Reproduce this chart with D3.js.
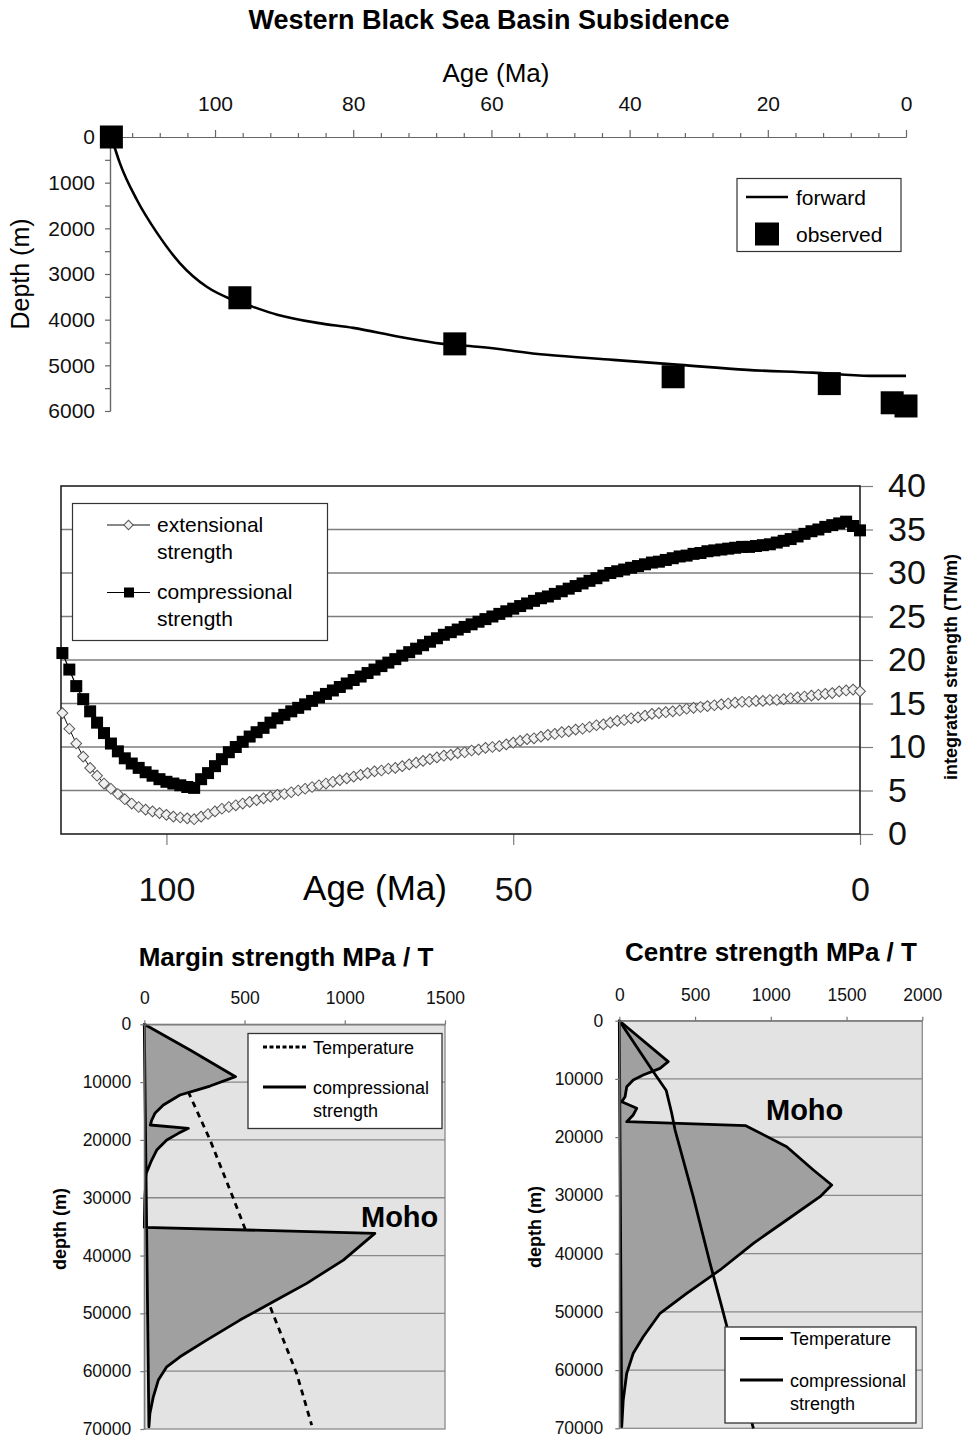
<!DOCTYPE html>
<html>
<head>
<meta charset="utf-8">
<script src="https://cdn.jsdelivr.net/npm/d3@7/dist/d3.min.js"></script>
<style>
  body { margin: 0; background: #fff; }
  svg { display: block; font-family: "Liberation Sans", Arial, sans-serif; }
</style>
</head>
<body>
<div id="chart"></div>
<script>
// --- Subsidence (top panel) ---
const forwardAge   = [115, 113.8, 111.3, 108.4, 105.1, 101.2, 97.4, 94.5, 91, 85.2, 80, 73.2, 67, 61.6, 52, 42.4, 32.7, 23, 13.5, 5.2, 0]
const forwardDepth = [0, 560, 1380, 2100, 2760, 3280, 3570, 3720, 3890, 4070, 4180, 4380, 4530, 4600, 4770, 4880, 4990, 5100, 5160, 5230, 5230]
const observedAge   = [115, 96.4, 65.3, 33.7, 11.1, 2, 0]
const observedDepth = [0, 3520, 4530, 5250, 5400, 5820, 5890]
const ageMajorTicks = [100, 80, 60, 40, 20, 0]
const ageMinorTicks = [112, 108, 104, 96, 92, 88, 84, 76, 72, 68, 64, 56, 52, 48, 44, 36, 32, 28, 24, 16, 12, 8, 4]
const depthTicks = [0, 1000, 2000, 3000, 4000, 5000, 6000]
const depthMinorTicks = [500, 1500, 2500, 3500, 4500, 5500]

// --- Integrated strength (middle panel) ---
const strengthAge = [115, 114, 113, 112, 111, 110, 109, 108, 107, 106, 105, 104, 103, 102, 101, 100,
  99, 98, 97, 96, 95, 94, 93, 92, 91, 90, 89, 88, 87, 86, 85, 84, 83, 82, 81, 80,
  79, 78, 77, 76, 75, 74, 73, 72, 71, 70, 69, 68, 67, 66, 65, 64, 63, 62, 61, 60,
  59, 58, 57, 56, 55, 54, 53, 52, 51, 50, 49, 48, 47, 46, 45, 44, 43, 42, 41, 40,
  39, 38, 37, 36, 35, 34, 33, 32, 31, 30, 29, 28, 27, 26, 25, 24, 23, 22, 21, 20,
  19, 18, 17, 16, 15, 14, 13, 12, 11, 10, 9, 8, 7, 6, 5, 4, 3, 2, 1, 0]
const extensional = [13.9, 12.1, 10.4, 8.9, 7.6, 6.7, 5.8, 5.2, 4.6, 4.0, 3.5, 3.1, 2.8, 2.6, 2.4, 2.2,
  2.0, 1.9, 1.8, 1.7, 2.0, 2.3, 2.6, 2.9, 3.1, 3.3, 3.5, 3.7, 3.9, 4.1, 4.3, 4.5, 4.6, 4.8, 5.0, 5.2,
  5.4, 5.6, 5.8, 6.0, 6.2, 6.4, 6.6, 6.8, 7.0, 7.2, 7.3, 7.5, 7.6, 7.8, 8.0, 8.2, 8.4, 8.6, 8.8, 9.0,
  9.1, 9.3, 9.4, 9.6, 9.7, 9.9, 10.0, 10.1, 10.3, 10.5, 10.7, 10.9, 11.0, 11.2, 11.4, 11.5, 11.7, 11.8, 12.0, 12.1,
  12.3, 12.5, 12.6, 12.8, 13.0, 13.1, 13.3, 13.4, 13.6, 13.8, 13.9, 14.0, 14.1, 14.2, 14.4, 14.5, 14.6, 14.7, 14.8, 14.9,
  15.0, 15.1, 15.2, 15.2, 15.3, 15.3, 15.4, 15.4, 15.5, 15.6, 15.7, 15.8, 15.9, 16.0, 16.1, 16.2, 16.4, 16.5, 16.6, 16.4]
const compressional = [20.8, 18.9, 17.0, 15.5, 14.1, 12.8, 11.6, 10.4, 9.5, 8.7, 8.1, 7.6, 7.1, 6.7, 6.3, 6.0,
  5.8, 5.6, 5.4, 5.3, 6.3, 7.0, 7.8, 8.6, 9.4, 10.0, 10.6, 11.2, 11.7, 12.2, 12.8, 13.3, 13.7, 14.1, 14.5, 14.9,
  15.3, 15.7, 16.1, 16.5, 16.9, 17.3, 17.7, 18.1, 18.5, 18.9, 19.3, 19.7, 20.1, 20.5, 20.9, 21.3, 21.7, 22.1, 22.5, 22.9,
  23.2, 23.5, 23.8, 24.1, 24.4, 24.7, 25.0, 25.3, 25.6, 25.9, 26.2, 26.5, 26.8, 27.1, 27.3, 27.6, 27.9, 28.2, 28.5, 28.8,
  29.1, 29.4, 29.7, 30.0, 30.2, 30.4, 30.6, 30.8, 31.0, 31.2, 31.3, 31.5, 31.7, 31.9, 32.0, 32.2, 32.3, 32.5, 32.6, 32.7,
  32.8, 32.9, 33.0, 33.0, 33.1, 33.2, 33.3, 33.5, 33.7, 33.9, 34.2, 34.5, 34.8, 35.0, 35.3, 35.5, 35.7, 35.9, 35.4, 34.9]
const strengthTicks = [0, 5, 10, 15, 20, 25, 30, 35, 40]
const strengthAgeTicks = [100, 50, 0]

// --- Margin profile (bottom left) ---
const marginDepth    = [0, 4450, 9060, 10680, 11370, 12230, 13960, 15400, 16560, 17420, 17990, 18860, 20020, 21750, 23480, 25780, 30000, 35120,
  36160, 40780, 44810, 48000, 51160, 54620, 57510, 59240, 61540, 64430, 67300, 69620]
const marginStrength = [0, 228, 455, 328, 261, 178, 95, 53, 37, 30, 220, 170, 112, 62, 37, 10, 3, 0,
  1150, 993, 810, 643, 477, 311, 178, 112, 70, 45, 28, 23]
const marginTempDepth = [11660, 20000, 30100, 35120, 48000, 60380, 69330]
const marginTemp      = [219, 328, 444, 500, 618, 760, 835]
const marginTicks = [0, 500, 1000, 1500]

// --- Centre profile (bottom right) ---
const centreDepth    = [0, 7040, 8180, 9330, 10180, 11330, 13050, 13910, 15050, 16190, 17340, 18030, 21640, 25640, 28220, 30220,
  34230, 38230, 42810, 46820, 50250, 54270, 57120, 60560, 65140, 69720]
const centreStrength = [0, 323, 269, 158, 92, 49, 38, 16, 115, 92, 49, 835, 1105, 1281, 1402, 1325,
  1105, 885, 665, 445, 269, 158, 92, 49, 26, 16]
const centreTempDepth = [0, 8600, 12000, 15900, 18770, 30220, 41660, 49120, 70000]
const centreTemp      = [0, 220, 310, 346, 368, 488, 599, 676, 885]
const centreTicks = [0, 500, 1000, 1500, 2000]
const profileDepthTicks = [0, 10000, 20000, 30000, 40000, 50000, 60000, 70000]
const profileGrid = [10000, 20000, 30000, 40000, 50000, 60000]

const W = 964, H = 1441
const svg = d3.select("#chart").append("svg").attr("width", W).attr("height", H)

function styleAxis(g, size, color) {
  g.selectAll(".domain").attr("stroke", color || "#666").attr("stroke-width", 1.2)
  g.selectAll(".tick line").attr("stroke", color || "#666").attr("stroke-width", 1.2)
  g.selectAll(".tick text").attr("font-size", size).attr("fill", "#111")
    .attr("font-family", '"Liberation Sans", Arial, sans-serif')
}

// ================= TOP PANEL =================
svg.append("text").attr("x", 489).attr("y", 29).attr("text-anchor", "middle")
  .attr("font-size", 27).attr("font-weight", "bold").text("Western Black Sea Basin Subsidence")

const xT = d3.scaleLinear().domain([115.2, 0]).range([110, 906])
const yT = d3.scaleLinear().domain([0, 6000]).range([137, 411])

svg.append("g").attr("transform", `translate(0,${yT(0)})`)
  .call(d3.axisTop(xT).tickValues(ageMinorTicks).tickSize(4).tickSizeOuter(0).tickFormat(""))
  .call(g => styleAxis(g, 21))
svg.append("g").attr("transform", `translate(0,${yT(0)})`)
  .call(d3.axisTop(xT).tickValues(ageMajorTicks).tickSize(7).tickPadding(19).tickSizeOuter(0))
  .call(g => styleAxis(g, 21))
svg.append("g").attr("transform", `translate(${xT(115.2)},0)`)
  .call(d3.axisLeft(yT).tickValues(depthMinorTicks).tickSize(5).tickSizeOuter(0).tickFormat(""))
  .call(g => styleAxis(g, 21))
svg.append("g").attr("transform", `translate(${xT(115.2)},0)`)
  .call(d3.axisLeft(yT).tickValues(depthTicks).tickSize(5).tickPadding(10).tickSizeOuter(0).tickFormat(d3.format("d")))
  .call(g => styleAxis(g, 21))

svg.append("text").attr("x", 496).attr("y", 82).attr("text-anchor", "middle")
  .attr("font-size", 26).text("Age (Ma)")
svg.append("text").attr("transform", "translate(29,274) rotate(-90)").attr("text-anchor", "middle")
  .attr("font-size", 25).text("Depth (m)")

const forwardPts = forwardAge.map((a, i) => [a, forwardDepth[i]])
svg.append("path").datum(forwardPts)
  .attr("fill", "none").attr("stroke", "#000").attr("stroke-width", 2.6)
  .attr("d", d3.line().x(d => xT(d[0])).y(d => yT(d[1])).curve(d3.curveMonotoneX))

const obsPts = observedAge.map((a, i) => [a, observedDepth[i]])
svg.append("g").selectAll("rect").data(obsPts).join("rect")
  .attr("x", d => xT(d[0]) - 11.5).attr("y", d => yT(d[1]) - 11.5)
  .attr("width", 23).attr("height", 23).attr("fill", "#000")

// legend
const lgT = svg.append("g")
lgT.append("rect").attr("x", 737).attr("y", 178.5).attr("width", 164).attr("height", 73)
  .attr("fill", "#fff").attr("stroke", "#333").attr("stroke-width", 1.2)
lgT.append("line").attr("x1", 746).attr("x2", 788).attr("y1", 197).attr("y2", 197)
  .attr("stroke", "#000").attr("stroke-width", 2.6)
lgT.append("text").attr("x", 796).attr("y", 205).attr("font-size", 21).text("forward")
lgT.append("rect").attr("x", 755).attr("y", 222.5).attr("width", 24).attr("height", 23).attr("fill", "#000")
lgT.append("text").attr("x", 796).attr("y", 242).attr("font-size", 21).text("observed")

// ================= MIDDLE PANEL =================
const xM = d3.scaleLinear().domain([115.2, 0]).range([61, 860])
const yM = d3.scaleLinear().domain([0, 40]).range([834, 486])

svg.append("g").selectAll("line").data(strengthTicks.filter(v => v > 0 && v < 40)).join("line")
  .attr("x1", xM(115.2)).attr("x2", xM(0)).attr("y1", d => yM(d)).attr("y2", d => yM(d))
  .attr("stroke", "#7d7d7d").attr("stroke-width", 1.3)

svg.append("g").attr("transform", `translate(${xM(0)},0)`)
  .call(d3.axisRight(yM).tickValues(strengthTicks).tickSize(13).tickPadding(15).tickSizeOuter(0))
  .call(g => { styleAxis(g, 34, "#7d7d7d"); g.select(".domain").remove() })
svg.append("g").attr("transform", `translate(0,${yM(0)})`)
  .call(d3.axisBottom(xM).tickValues(strengthAgeTicks).tickSize(11).tickPadding(32).tickSizeOuter(0))
  .call(g => { styleAxis(g, 34, "#7d7d7d"); g.select(".domain").remove() })

svg.append("rect").attr("x", xM(115.2)).attr("y", yM(40))
  .attr("width", xM(0) - xM(115.2)).attr("height", yM(0) - yM(40))
  .attr("fill", "none").attr("stroke", "#222").attr("stroke-width", 1.6)

const extPts = strengthAge.map((a, i) => [a, extensional[i]])
const cmpPts = strengthAge.map((a, i) => [a, compressional[i]])
const lineM = d3.line().x(d => xM(d[0])).y(d => yM(d[1]))

svg.append("path").datum(extPts).attr("fill", "none").attr("stroke", "#111").attr("stroke-width", 1).attr("d", lineM)
svg.append("g").selectAll("path").data(extPts).join("path")
  .attr("transform", d => `translate(${xM(d[0])},${yM(d[1])}) rotate(45)`)
  .attr("d", d3.symbol(d3.symbolSquare, 58))
  .attr("fill", "#f0f0f0").attr("stroke", "#555").attr("stroke-width", 1)

svg.append("path").datum(cmpPts).attr("fill", "none").attr("stroke", "#000").attr("stroke-width", 1.2).attr("d", lineM)
svg.append("g").selectAll("path").data(cmpPts).join("path")
  .attr("transform", d => `translate(${xM(d[0])},${yM(d[1])})`)
  .attr("d", d3.symbol(d3.symbolSquare, 144)).attr("fill", "#000")

svg.append("text").attr("x", 375).attr("y", 900).attr("text-anchor", "middle")
  .attr("font-size", 35).text("Age (Ma)")
svg.append("text").attr("transform", "translate(957,667) rotate(-90)").attr("text-anchor", "middle")
  .attr("font-size", 18).attr("font-weight", "bold").text("integrated strength (TN/m)")

// legend
const lgM = svg.append("g")
lgM.append("rect").attr("x", 72.5).attr("y", 503.5).attr("width", 255).attr("height", 137)
  .attr("fill", "#fff").attr("stroke", "#333").attr("stroke-width", 1.2)
lgM.append("line").attr("x1", 107).attr("x2", 150).attr("y1", 525).attr("y2", 525).attr("stroke", "#111").attr("stroke-width", 1)
lgM.append("path").attr("transform", "translate(128.5,525) rotate(45)").attr("d", d3.symbol(d3.symbolSquare, 44))
  .attr("fill", "#f0f0f0").attr("stroke", "#555").attr("stroke-width", 1)
lgM.append("text").attr("x", 157).attr("y", 532).attr("font-size", 21).text("extensional")
lgM.append("text").attr("x", 157).attr("y", 559).attr("font-size", 21).text("strength")
lgM.append("line").attr("x1", 107).attr("x2", 150).attr("y1", 592.5).attr("y2", 592.5).attr("stroke", "#000").attr("stroke-width", 1.2)
lgM.append("path").attr("transform", "translate(129,592.5)").attr("d", d3.symbol(d3.symbolSquare, 100)).attr("fill", "#000")
lgM.append("text").attr("x", 157).attr("y", 599).attr("font-size", 21).text("compressional")
lgM.append("text").attr("x", 157).attr("y", 626).attr("font-size", 21).text("strength")

// ================= BOTTOM PROFILES =================
function drawProfile(o) {
  const x = d3.scaleLinear().domain([0, o.maxX]).range(o.xRange)
  const y = d3.scaleLinear().domain([0, 70000]).range(o.yRange)
  const g = svg.append("g")

  g.append("rect").attr("x", x(0)).attr("y", y(0)).attr("width", x(o.maxX) - x(0)).attr("height", y(70000) - y(0))
    .attr("fill", "#e3e3e3").attr("stroke", "#8a8a8a").attr("stroke-width", 1.3)
  g.append("g").selectAll("line").data(profileGrid).join("line")
    .attr("x1", x(0)).attr("x2", x(o.maxX)).attr("y1", d => y(d)).attr("y2", d => y(d))
    .attr("stroke", "#888").attr("stroke-width", 1.3)

  const strengthPts = o.depth.map((d, i) => [o.strength[i], d])
  const tempPts = o.tempDepth.map((d, i) => [o.temp[i], d])
  const line = d3.line().x(d => x(d[0])).y(d => y(d[1]))

  const drawTemp = () => g.append("path").datum(tempPts).attr("fill", "none").attr("stroke", "#000")
    .attr("stroke-width", 2.8).attr("stroke-dasharray", o.dashed ? "6,5" : null).attr("d", line)

  // margin: temperature hidden behind the strength envelope; centre: drawn over it
  if (o.tempBehind) drawTemp()
  g.append("path").datum(strengthPts)
    .attr("d", d => line(d) + "Z")
    .attr("fill", "#a0a0a0").attr("stroke", "#000").attr("stroke-width", 2.8).attr("stroke-linejoin", "round")
  if (!o.tempBehind) drawTemp()

  g.append("g").attr("transform", `translate(0,${y(0)})`)
    .call(d3.axisTop(x).tickValues(o.xTicks).tickSize(4).tickPadding(o.xPad).tickSizeOuter(0).tickFormat(d3.format("d")))
    .call(a => styleAxis(a, 17.5, "#777"))
  g.append("g").attr("transform", `translate(${x(0)},0)`)
    .call(d3.axisLeft(y).tickValues(profileDepthTicks).tickSize(4).tickPadding(o.yPad).tickSizeOuter(0).tickFormat(d3.format("d")))
    .call(a => styleAxis(a, 17.5, "#777"))

  g.append("text").attr("x", o.titleX).attr("y", o.titleY).attr("text-anchor", "middle")
    .attr("font-size", 26).attr("font-weight", "bold").text(o.title)
  g.append("text").attr("transform", `translate(${o.depthLabelX},${o.depthLabelY}) rotate(-90)`)
    .attr("text-anchor", "middle").attr("font-size", 18).attr("font-weight", "bold").text("depth (m)")
  g.append("text").attr("x", o.mohoX).attr("y", o.mohoY).attr("font-size", 29).attr("font-weight", "bold").text("Moho")

  const L = o.legend
  g.append("rect").attr("x", L.x).attr("y", L.y).attr("width", L.w).attr("height", L.h)
    .attr("fill", "#fff").attr("stroke", "#333").attr("stroke-width", 1.3)
  g.append("line").attr("x1", L.x + 15).attr("x2", L.x + 58).attr("y1", L.tempY).attr("y2", L.tempY)
    .attr("stroke", "#000").attr("stroke-width", 2.8).attr("stroke-dasharray", o.dashed ? "4,2.5" : null)
  g.append("text").attr("x", L.x + 65).attr("y", L.tempY + 6.5).attr("font-size", 18).text("Temperature")
  g.append("line").attr("x1", L.x + 15).attr("x2", L.x + 58).attr("y1", L.cmpY).attr("y2", L.cmpY)
    .attr("stroke", "#000").attr("stroke-width", 2.8)
  g.append("text").attr("x", L.x + 65).attr("y", L.cmpY + 6.5).attr("font-size", 18).text("compressional")
  g.append("text").attr("x", L.x + 65).attr("y", L.cmpY + 30).attr("font-size", 18).text("strength")
}

drawProfile({
  maxX: 1500, xRange: [144.3, 445], yRange: [1024.3, 1429],
  depth: marginDepth, strength: marginStrength, tempDepth: marginTempDepth, temp: marginTemp,
  xTicks: marginTicks, xPad: 16, yPad: 9, dashed: true, tempBehind: true,
  title: "Margin strength MPa / T", titleX: 286, titleY: 966,
  depthLabelX: 66, depthLabelY: 1229, mohoX: 361, mohoY: 1227,
  legend: { x: 248, y: 1033.5, w: 194, h: 95, tempY: 1047, cmpY: 1087 }
})

drawProfile({
  maxX: 2000, xRange: [619.3, 922.3], yRange: [1020.7, 1428.3],
  depth: centreDepth, strength: centreStrength, tempDepth: centreTempDepth, temp: centreTemp,
  xTicks: centreTicks, xPad: 16, yPad: 12, dashed: false, tempBehind: false,
  title: "Centre strength MPa / T", titleX: 771, titleY: 961,
  depthLabelX: 541, depthLabelY: 1227, mohoX: 766, mohoY: 1120,
  legend: { x: 725, y: 1327, w: 191, h: 96, tempY: 1338.5, cmpY: 1380 }
})
</script>
</body>
</html>
